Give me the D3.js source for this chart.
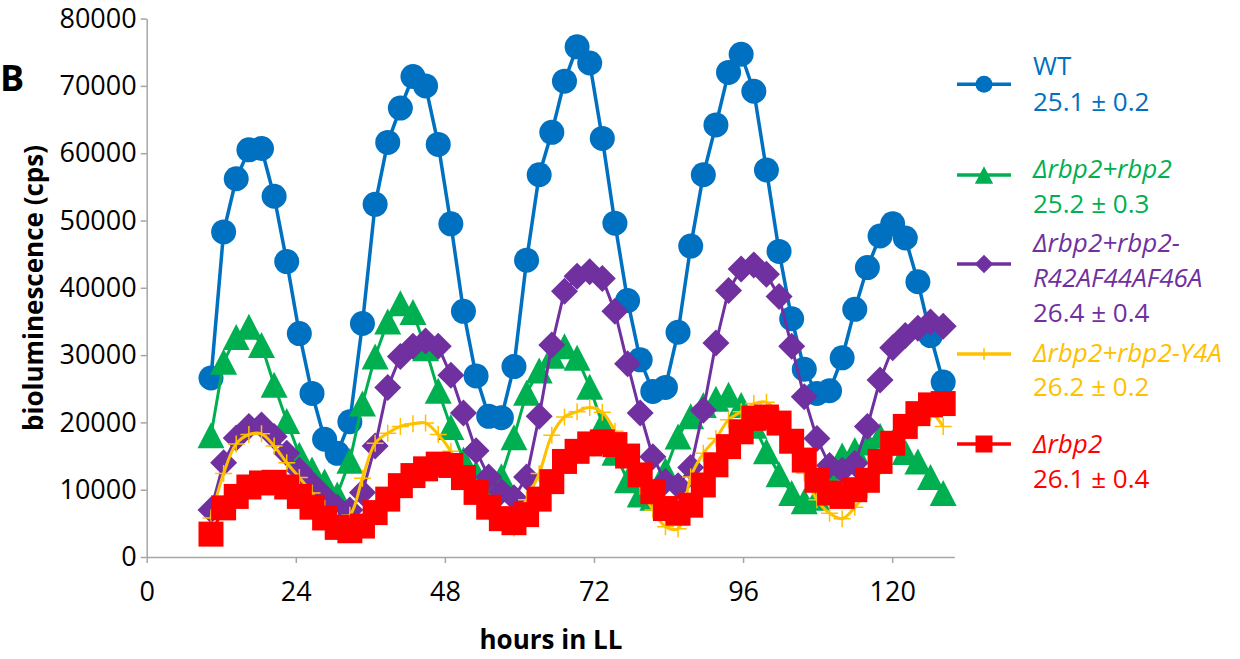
<!DOCTYPE html>
<html>
<head>
<meta charset="utf-8">
<script src="https://cdnjs.cloudflare.com/ajax/libs/d3/7.8.5/d3.min.js"></script>
<style>
  html, body { margin: 0; padding: 0; background: #fff; overflow: hidden; }
  svg { display: block; font-family: "Open Sans", "Noto Sans", sans-serif; }
</style>
</head>
<body>
<svg id="chart" width="1240" height="659"></svg>
<script>
// Sampling times (hours in constant light)
const hours = [
  10.35, 12.38, 14.41, 16.45, 18.48, 20.51, 22.54, 24.57, 26.61, 28.64,
  30.67, 32.70, 34.73, 36.77, 38.80, 40.83, 42.86, 44.89, 46.93, 48.96,
  50.99, 53.02, 55.05, 57.09, 59.12, 61.15, 63.18, 65.21, 67.25, 69.28,
  71.31, 73.34, 75.37, 77.41, 79.44, 81.47, 83.50, 85.53, 87.57, 89.60,
  91.63, 93.66, 95.69, 97.73, 99.76, 101.79, 103.82, 105.85, 107.89, 109.92,
  111.95, 113.98, 116.01, 118.05, 120.08, 122.11, 124.14, 126.17, 128.21
];

// Bioluminescence (cps) per strain
const wt = [
  26600, 48300, 56200, 60500, 60700, 53600, 43900, 33200, 24300, 17500,
  15400, 20100, 34700, 52400, 61600, 66700, 71400, 70000, 61300, 49500,
  36500, 26900, 20900, 20700, 28300, 44100, 56800, 63100, 70700, 75800,
  73400, 62200, 49600, 38100, 29300, 24600, 25200, 33400, 46200, 56800,
  64200, 72000, 74700, 69200, 57500, 45400, 35400, 27900, 24300, 24700,
  29600, 36800, 43000, 47700, 49500, 47400, 40900, 32900, 26000
];
const rbp2Rescue = [
  18100, 29000, 32700, 34200, 31500, 25600, 20200, 15200, 13000, 11200,
  9300, 14300, 22800, 29800, 35000, 37700, 36400, 31000, 24700, 19300,
  14500, 12500, 10800, 12000, 17800, 24400, 27700, 29900, 31300, 29600,
  25300, 19800, 15500, 11400, 9300, 8800, 12900, 17900, 20900, 22600,
  23500, 24100, 22600, 19500, 15700, 12300, 9500, 8300, 8800, 12000,
  15100, 15900, 17000, 18000, 17000, 15600, 14200, 11900, 9500
];
const rbp2R42A = [
  7000, 14000, 17700, 19400, 19600, 17900, 15400, 12900, 10900, 9000,
  7400, 7000, 9600, 16500, 25200, 29800, 31300, 32100, 31300, 27000,
  21400, 15800, 11900, 9700, 8800, 11900, 20900, 31500, 39500, 41700,
  42400, 41400, 36500, 28700, 21400, 14900, 11200, 10600, 13300, 21800,
  31800, 39600, 42800, 43400, 42000, 38700, 31300, 23800, 17600, 13600,
  12900, 13900, 19400, 26300, 31100, 32900, 34000, 34900, 34300
];
const rbp2Y4A = [
  5800, 12400, 16800, 18200, 18300, 16500, 14000, 11800, 9500, 7200,
  5400, 6200, 11700, 16900, 18400, 19400, 19800, 19900, 18200, 15700,
  12000, 9000, 6800, 5200, 4300, 8500, 12400, 18100, 20800, 21600,
  22200, 21500, 18700, 14500, 10500, 7000, 4500, 4200, 11900, 15400,
  17600, 20400, 21600, 22800, 23000, 21000, 17500, 12500, 8500, 6500,
  5700, 7400, 10000, 13500, 16200, 18500, 20500, 21400, 19400
];
const rbp2Null = [
  3400, 7300, 9000, 10400, 11000, 11100, 10400, 9000, 7400, 5800,
  4400, 3900, 4600, 6600, 8600, 10600, 12100, 13100, 13800, 13600,
  11800, 9600, 7400, 5700, 5100, 6300, 8600, 11200, 14200, 15700,
  16800, 17100, 16700, 15000, 12200, 9700, 7200, 6500, 7700, 10700,
  13700, 16400, 18600, 20600, 20800, 19900, 17200, 14400, 11400, 9500,
  9000, 10000, 11400, 14200, 16900, 19400, 21300, 22600, 22800
];

// Legend text: strain name lines and period (h)
const strainNames = [
  ["WT"],
  ["\u0394rbp2+rbp2"],
  ["\u0394rbp2+rbp2-", "R42AF44AF46A"],
  ["\u0394rbp2+rbp2-Y4A"],
  ["\u0394rbp2"]
];
const periods = ["25.1 \u00b1 0.2", "25.2 \u00b1 0.3", "26.4 \u00b1 0.4", "26.2 \u00b1 0.2", "26.1 \u00b1 0.4"];

const xTicks = [0, 24, 48, 72, 96, 120];
const yTicks = [0, 10000, 20000, 30000, 40000, 50000, 60000, 70000, 80000];

const series = [
  { values: wt,         color: "#0070C0", marker: "circle",   width: 3.5, curve: d3.curveLinear },
  { values: rbp2Rescue, color: "#00B050", marker: "triangle", width: 3,   curve: d3.curveLinear },
  { values: rbp2R42A,   color: "#7030A0", marker: "diamond",  width: 3,   curve: d3.curveLinear },
  { values: rbp2Y4A,    color: "#FFC000", marker: "cross",    width: 3,   curve: d3.curveCatmullRom.alpha(0.5) },
  { values: rbp2Null,   color: "#FF0000", marker: "square",   width: 3,   curve: d3.curveLinear }
];

const svg = d3.select("#chart");
const x = d3.scaleLinear().domain([0, 130]).range([146.7, 954.3]);
const y = d3.scaleLinear().domain([0, 80000]).range([557, 18.6]);

const axisColor = "#A6A6A6";

// Axes
const gx = svg.append("g").attr("transform", `translate(0,${y(0)})`)
  .call(d3.axisBottom(x).tickValues(xTicks).tickSize(6).tickPadding(19).tickSizeOuter(0));
const gy = svg.append("g").attr("transform", `translate(${x(0)},0)`)
  .call(d3.axisLeft(y).tickValues(yTicks).tickSize(6).tickPadding(4).tickSizeOuter(0)
    .tickFormat(d3.format("d")));
[gx, gy].forEach(g => {
  g.select(".domain").attr("stroke", axisColor).attr("stroke-width", 1.5);
  g.selectAll(".tick line").attr("stroke", axisColor).attr("stroke-width", 1.5);
  g.selectAll(".tick text").attr("fill", "#000").style("font-size", "27px")
    .style("font-family", "'Open Sans', sans-serif");
});

// Marker shapes, centred on the data point
function markerPath(type, k) {
  switch (type) {
    case "circle": { const r = 12.5 * k; return `M${-r},0a${r},${r} 0 1,0 ${2*r},0a${r},${r} 0 1,0 ${-2*r},0Z`; }
    case "triangle": { const w = 13.5 * k, h = 13 * k; return `M0,${-h}L${w},${h}L${-w},${h}Z`; }
    case "diamond": { const d = 13.5 * k; return `M0,${-d}L${d},0L0,${d}L${-d},0Z`; }
    case "square": { const a = 12.5 * k; return `M${-a},${-a}h${2*a}v${2*a}h${-2*a}Z`; }
    case "cross": { const a = 8.5 * k; return `M${-a},0H${a}M0,${-a}V${a}`; }
  }
}

// Series: line first, then its markers
series.forEach(s => {
  const pts = hours.map((h, i) => [h, s.values[i]]);
  const line = d3.line().x(d => x(d[0])).y(d => y(d[1])).curve(s.curve);
  const g = svg.append("g");
  g.append("path").attr("d", line(pts)).attr("fill", "none")
    .attr("stroke", s.color).attr("stroke-width", s.width).attr("stroke-linejoin", "round");
  g.selectAll("path.m").data(pts).join("path").attr("class", "m")
    .attr("transform", d => `translate(${x(d[0])},${y(d[1])})`)
    .attr("d", markerPath(s.marker, 1))
    .attr("fill", s.marker === "cross" ? "none" : s.color)
    .attr("stroke", s.marker === "cross" ? s.color : "none")
    .attr("stroke-width", 1.5);
});

// Axis titles
svg.append("text").attr("x", 551).attr("y", 649).attr("text-anchor", "middle")
  .style("font-size", "26px").style("font-weight", "bold").attr("fill", "#000")
  .text("hours in LL");
svg.append("text").attr("transform", "translate(43,288) rotate(-90)").attr("text-anchor", "middle")
  .style("font-size", "26px").style("font-weight", "bold").attr("fill", "#000")
  .text("bioluminescence (cps)");

// Panel letter
svg.append("text").attr("x", 0).attr("y", 91).style("font-size", "36px")
  .style("font-weight", "bold").attr("fill", "#000").text("B");

// Legend
const legendLineY = [84.3, 175, 264, 354, 444];
const legendTextY = [[75, 110.7], [178, 212.7], [251.7, 286.7, 321.7], [361.7, 396], [453.3, 488.3]];
const lg = svg.append("g");
series.forEach((s, i) => {
  const ly = legendLineY[i];
  lg.append("line").attr("x1", 957).attr("x2", 1011).attr("y1", ly).attr("y2", ly)
    .attr("stroke", s.color).attr("stroke-width", 3.5);
  lg.append("path").attr("transform", `translate(984,${ly})`)
    .attr("d", markerPath(s.marker, 0.68))
    .attr("fill", s.marker === "cross" ? "none" : s.color)
    .attr("stroke", s.marker === "cross" ? s.color : "none")
    .attr("stroke-width", 1.6);
  const lines = strainNames[i].map(t => ({ t, italic: i > 0 }))
    .concat([{ t: periods[i], italic: false }]);
  lines.forEach((ln, j) => {
    lg.append("text").attr("x", 1033).attr("y", legendTextY[i][j])
      .style("font-size", "26px").style("font-style", ln.italic ? "italic" : "normal")
      .attr("fill", s.color).text(ln.t);
  });
});
</script>
</body>
</html>
